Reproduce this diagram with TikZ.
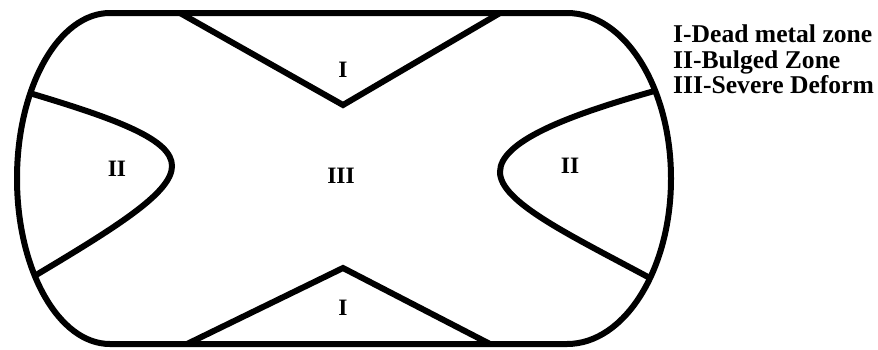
\documentclass[tikz,border=0pt]{standalone}
\usepackage{fontspec}
\setmainfont{Liberation Serif}
\usepackage{tikz}
\usetikzlibrary{calc, positioning}

\begin{document}
\begin{tikzpicture}[
    x=1pt, y=-1pt,
    zone/.style={line width=6pt, black},
    lbl/.style={font=\fontsize{23.5}{25}\selectfont\bfseries, inner sep=0pt},
    legend/.style={font=\fontsize{25.6}{26}\selectfont\bfseries, inner sep=0pt, anchor=base west},
]
\useasboundingbox (0,0) rectangle (878,349);

% centres of the two rounded ends
\coordinate (cl) at (110,178.5);
\coordinate (cr) at (567,178.5);

% outer billet outline
\draw[zone] (110,13) -- (567,13) arc[start angle=-90, end angle=90, x radius=104, y radius=165.5]
    -- (110,344) arc[start angle=90, end angle=270, x radius=93, y radius=165.5] -- cycle;

% points where the bulge lines meet the outline
\coordinate (lu) at ($(cl)+(211:93 and 165.5)$);
\coordinate (ll) at ($(cl)+(144:93 and 165.5)$);
\coordinate (ru) at ($(cr)+(-32:104 and 165.5)$);
\coordinate (rl) at ($(cr)+(37:104 and 165.5)$);
\coordinate (ltip) at (172,166);
\coordinate (rtip) at (500,172);

% dead metal zones
\draw[zone] (180,13) -- (343,105) -- (500,13);
\draw[zone] (187,344) -- (343,268) -- (490,344);

% bulged zones
\draw[zone] (lu) .. controls (120,120) and (172,140) .. (ltip)
    .. controls (172,192) and (120,225) .. (ll);
\draw[zone] (ru) .. controls (565,116) and (500,142) .. (rtip)
    .. controls (500,202) and (570,235) .. (rl);

% zone labels
\node[lbl] (lblIt) at (343,70) {I};
\node[lbl] (lblIb) at (343,308) {I};
\node[lbl] (lblIIl) at (117,169) {II};
\node[lbl] (lblIIr) at (570,166) {II};
\node[lbl] (lblIII) at (341,176) {III};

% legend
\node[legend] (leg1) at (673,42) {I-Dead metal zone};
\node[legend] (leg2) at (673,68) {II-Bulged Zone};
\node[legend] (leg3) at (673,93.5) {III-Severe Deform};
\end{tikzpicture}
\end{document}
